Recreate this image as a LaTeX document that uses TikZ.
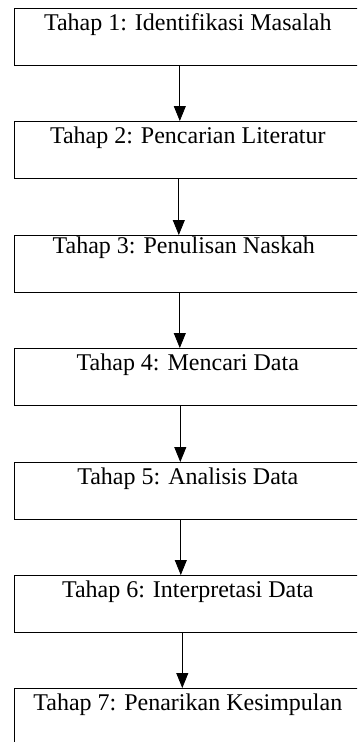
\documentclass[tikz,border=0pt]{standalone}
\usepackage{fontspec}
\setmainfont{Liberation Serif}
\usetikzlibrary{arrows.meta}
\tikzset{
  stagebox/.style={draw, line width=1.1pt, anchor=north west, rectangle,
    minimum width=347.5pt, minimum height=57pt, inner sep=0pt,
    text height=22pt, text depth=35pt,
    font=\fontsize{24}{28}\selectfont},
  flowarrow/.style={draw, line width=0.8pt, -{Triangle[width=12pt,length=15pt]}}
}
\begin{document}
\begin{tikzpicture}[x=1pt,y=-1pt]
\useasboundingbox (0,0) rectangle (357,742);
\clip (0,0) rectangle (357,742);
\node[stagebox] (s1) at (13.5,8) {Tahap 1: Identifikasi Masalah};
\node[stagebox] (s2) at (13.5,121) {Tahap 2: Pencarian Literatur};
\node[stagebox, text height=18pt, text depth=39pt] (s3) at (13.5,235) {Tahap 3: Penulisan Naskah\hspace*{8pt}};
\node[stagebox] (s4) at (13.5,348) {Tahap 4: Mencari Data};
\node[stagebox] (s5) at (13.5,462) {Tahap 5: Analisis Data};
\node[stagebox] (s6) at (13.5,575) {Tahap 6: Interpretasi Data};
\node[stagebox] (s7) at (13.5,688) {Tahap 7: Penarikan Kesimpulan};
\draw[flowarrow] ([xshift=-8pt]s1.south) -- ([xshift=-8pt]s2.north);
\draw[flowarrow] ([xshift=-9pt]s2.south) -- ([xshift=-9pt]s3.north);
\draw[flowarrow] ([xshift=-8pt]s3.south) -- ([xshift=-8pt]s4.north);
\draw[flowarrow] ([xshift=-7.5pt]s4.south) -- ([xshift=-7.5pt]s5.north);
\draw[flowarrow] ([xshift=-7pt]s5.south) -- ([xshift=-7pt]s6.north);
\draw[flowarrow] ([xshift=-5.5pt]s6.south) -- ([xshift=-5.5pt]s7.north);
\end{tikzpicture}
\end{document}
